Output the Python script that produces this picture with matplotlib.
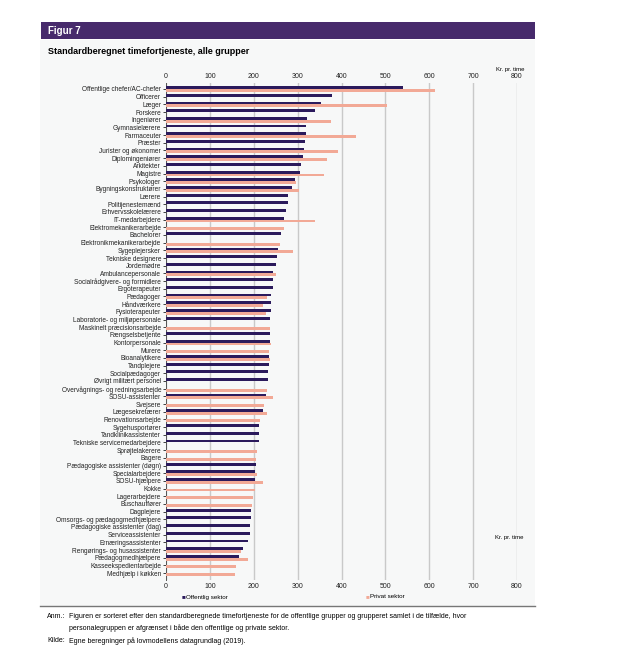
import numpy as np
import matplotlib
matplotlib.use("Agg")
import matplotlib.pyplot as plt
from matplotlib.patches import Rectangle
from matplotlib.lines import Line2D

plt.rcParams['font.family'] = ['Liberation Sans', 'DejaVu Sans']

# categories, top to bottom
groups = [
    "Offentlige chefer/AC-chefer", "Officerer", "Læger", "Forskere", "Ingeniører",
    "Gymnasielærere", "Farmaceuter", "Præster", "Jurister og økonomer",
    "Diplomingeniører", "Arkitekter", "Magistre", "Psykologer",
    "Bygningskonstruktører", "Lærere", "Politijenestemænd", "Erhvervsskolelærere",
    "IT-medarbejdere", "Elektromekanikerarbejde", "Bachelorer",
    "Elektronikmekanikerarbejde", "Sygeplejersker", "Tekniske designere",
    "Jordemødre", "Ambulancepersonale", "Socialrådgivere- og formidlere",
    "Ergoterapeuter", "Pædagoger", "Håndværkere", "Fysioterapeuter",
    "Laboratorie- og miljøpersonale", "Maskinelt præcisionsarbejde",
    "Fængselsbetjente", "Kontorpersonale", "Murere", "Bioanalytikere",
    "Tandplejere", "Socialpædagoger", "Øvrigt militært personel",
    "Overvågnings- og redningsarbejde", "SOSU-assistenter", "Svejsere",
    "Lægesekretærer", "Renovationsarbejde", "Sygehusportører",
    "Tandklinikassistenter", "Tekniske servicemedarbejdere", "Sprøjtelakerere",
    "Bagere", "Pædagogiske assistenter (døgn)", "Specialarbejdere",
    "SOSU-hjælpere", "Kokke", "Lagerarbejdere", "Buschauffører", "Dagplejere",
    "Omsorgs- og pædagogmedhjælpere", "Pædagogiske assistenter (dag)",
    "Serviceassistenter", "Ernæringsassistenter", "Rengørings- og husassistenter",
    "Pædagogmedhjælpere", "Kasseekspedientarbejde", "Medhjælp i køkken",
]

nan = np.nan
# kr. pr. time, offentlig sektor
public = [
    540, 378, 354, 339, 322, 319, 318, 316, 315, 313, 307, 306, 295, 287, 278, 278,
    273, 270, nan, 262, nan, 256, 252, 250, 245, 244, 243, 240, 240, 239, 237, nan,
    236, 236, nan, 234, 234, 233, 233, nan, 227, nan, 220, nan, 212, 212, 211, nan,
    nan, 204, 203, 203, nan, nan, nan, 194, 193, 192, 192, 188, 176, 166, nan, nan,
]
# kr. pr. time, privat sektor
private = [
    614, nan, 504, nan, 376, nan, 432, nan, 393, 367, nan, 361, 297, 304, nan, nan,
    nan, 339, 268, nan, 260, 289, nan, nan, 250, nan, nan, 231, 221, 228, nan, 237,
    nan, 240, 234, 237, nan, nan, nan, 231, 243, 224, 231, 215, nan, nan, nan, 208,
    205, nan, 207, 221, 202, 198, 196, nan, nan, nan, nan, nan, 170, 188, 160, 157,
]

dark = "#2b1a5c"
salmon = "#f2a996"
band = "#472a6c"

W, H = 643, 647
fig = plt.figure(figsize=(W / 100, H / 100), dpi=100)

def fx(px):
    return px / W

def fy(py):
    return 1 - py / H

# light panel and header band
fig.patches.append(Rectangle((fx(40), fy(606)), fx(495), fy(40) - fy(606),
                             transform=fig.transFigure, facecolor="#f7f8f8",
                             edgecolor="none", zorder=-2))
fig.patches.append(Rectangle((fx(41), fy(39)), fx(494), fy(22) - fy(39),
                             transform=fig.transFigure, facecolor=band,
                             edgecolor="none", zorder=-1))
fig.text(fx(48), fy(31), "Figur 7", color="white", fontsize=7, fontweight="bold",
         va="center", ha="left")
fig.text(fx(48), fy(52), "Standardberegnet timefortjeneste, alle grupper",
         fontsize=6.5, fontweight="bold", va="center", ha="left")

ax = fig.add_axes([fx(166), fy(580), fx(517) - fx(166), fy(83) - fy(580)])
ax.set_zorder(3)
ax.patch.set_visible(False)

y = np.arange(len(groups))
h = 0.37
ax.barh(y - h / 2, public, height=h, color=dark, label="Offentlig sektor", zorder=3)
ax.barh(y + h / 2, private, height=h, color=salmon, label="Privat sektor", zorder=3)

ax.set_xlim(0, 800)
ax.set_ylim(len(groups) - 0.1, -0.78)
ax.set_xticks(range(0, 801, 100))
ax.set_axisbelow(True)
ax.xaxis.grid(True, color="#c9c9c9", linewidth=1.0)
ax.tick_params(axis="x", labeltop=True, top=False, bottom=False, length=0,
               labelsize=5, colors="#222222", pad=2.2)
ax.set_yticks(y)
ax.set_yticklabels(groups, fontsize=4.7)
ax.tick_params(axis="y", length=2, width=0.6, pad=1.5, colors="#222222")
for s in ["top", "right", "bottom"]:
    ax.spines[s].set_visible(False)
ax.spines["left"].set_color("#555555")
ax.spines["left"].set_linewidth(0.7)

fig.text(fx(510), fy(69), "Kr. pr. time", fontsize=4.3, ha="center", va="center")
fig.text(fx(509), fy(538), "Kr. pr. time", fontsize=4.3, ha="center", va="center")

# legend
fig.text(fx(182), fy(597), "■", color=dark, fontsize=4.5, ha="left", va="center")
fig.text(fx(186), fy(597), "Offentlig sektor", fontsize=4.5, ha="left", va="center")
fig.text(fx(366), fy(597), "■", color=salmon, fontsize=4.5, ha="left", va="center")
fig.text(fx(370), fy(597), "Privat sektor", fontsize=4.5, ha="left", va="center")
fig.lines.append(Line2D([fx(40), fx(535)], [fy(606), fy(606)], transform=fig.transFigure,
                        color="#777777", linewidth=1.0))

# notes
fig.text(fx(47), fy(617), "Anm.:", fontsize=5, ha="left", va="center")
fig.text(fx(69), fy(617), "Figuren er sorteret efter den standardberegnede timefortjeneste "
         "for de offentlige grupper og grupperet samlet i de tilfælde, hvor",
         fontsize=5, ha="left", va="center")
fig.text(fx(69), fy(628), "personalegruppen er afgrænset i både den offentlige og private sektor.",
         fontsize=5, ha="left", va="center")
fig.text(fx(47), fy(641), "Kilde:", fontsize=5, ha="left", va="center")
fig.text(fx(69), fy(641), "Egne beregninger på lovmodellens datagrundlag (2019).",
         fontsize=5, ha="left", va="center")

fig.savefig("out.png", dpi=100)
